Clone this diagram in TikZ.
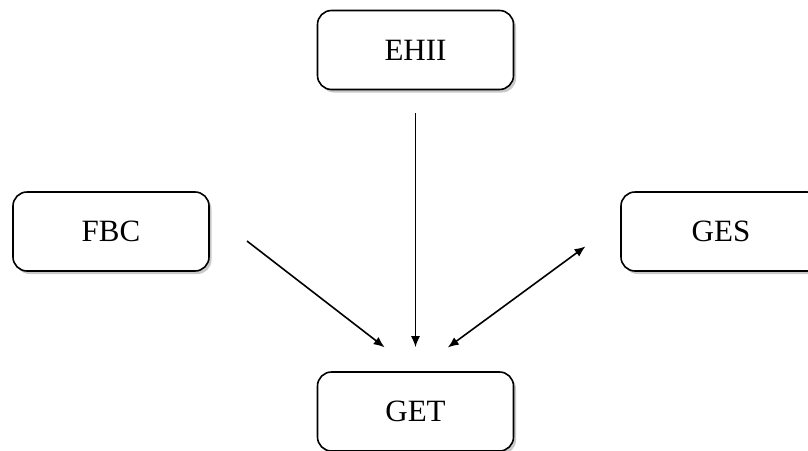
\documentclass[tikz,border=0pt]{standalone}
\usepackage{fontspec}
\setmainfont{Liberation Serif}
\usepackage{xcolor}
\usepackage{tikz}
\usetikzlibrary{arrows.meta,shadows}

\begin{document}
\begin{tikzpicture}[x=1pt, y=-1pt,
    box/.style={draw, line width=1.6pt, rounded corners=14pt, fill=white,
        minimum width=196pt, minimum height=79pt, inner sep=0pt,
        font=\fontsize{31}{37}\selectfont,
        drop shadow={shadow xshift=2.5pt, shadow yshift=-3pt, opacity=0.35, fill=black!60}},
    arw/.style={line width=1.6pt, -{Latex[length=11pt, width=9pt]}}]
\useasboundingbox[fill=white] (0,0) rectangle (808,450);

\node[box] (ehii) at (415.5,50) {EHII};
\node[box] (fbc) at (111,231.5) {FBC};
\node[box, minimum width=200pt] (ges) at (721,231.5) {GES};
\node[box] (get) at (415.5,411.5) {GET};

\draw[arw, shorten <=23pt, shorten >=24pt] (ehii.south) -- (get.north);
\draw[arw, shorten <=47pt, shorten >=39pt] (fbc.11.5) -- (get.north);
\draw[arw, {Latex[length=11pt, width=9pt]}-{Latex[length=11pt, width=9pt]},
    shorten <=43pt, shorten >=40pt] (ges.174) -- (get.north);

\end{tikzpicture}
\end{document}
